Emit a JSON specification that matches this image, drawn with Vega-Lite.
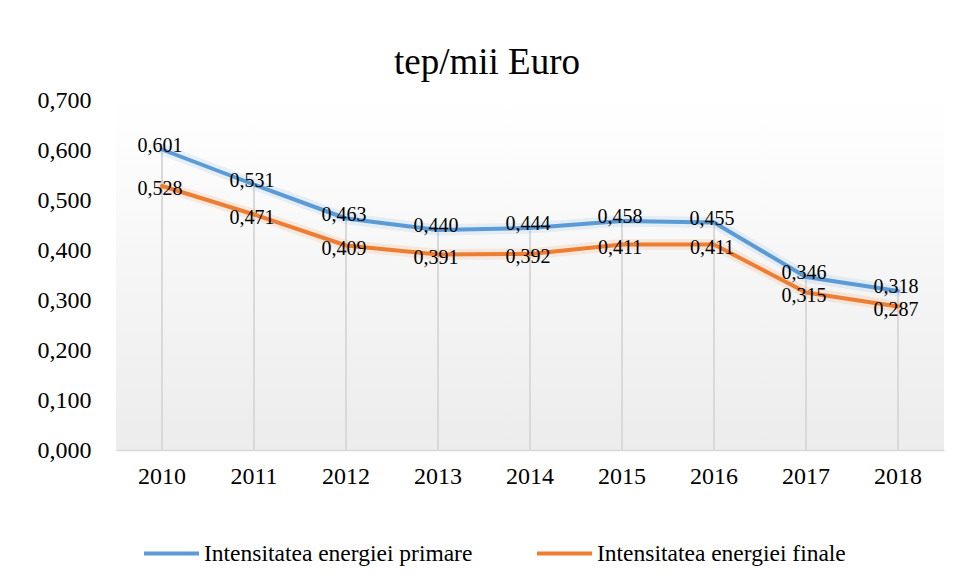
{
  "$schema": "https://vega.github.io/schema/vega-lite/v6.json",
  "width": 828,
  "height": 350,
  "autosize": {"type": "none"},
  "padding": {"left": 116, "top": 100, "right": 10, "bottom": 132},
  "background": "white",
  "title": {"text": "tep/mii Euro", "font": "Liberation Serif", "fontSize": 37, "fontWeight": "normal", "color": "#000000", "anchor": "middle", "dx": -43, "offset": -23, "baseline": "alphabetic"},
  "config": {
    "font": "Liberation Serif",
    "locale": {"number": {"decimal": ",", "thousands": ".", "grouping": [3], "currency": ["", " €"]}},
    "view": {"stroke": null, "fill": {"gradient": "linear", "x1": 0, "y1": 0, "x2": 0, "y2": 1, "stops": [{"offset": 0, "color": "#ffffff"}, {"offset": 1, "color": "#ececec"}]}},
    "legend": {"title": null, "orient": "none", "legendX": 26, "legendY": 424, "direction": "horizontal", "symbolType": "stroke", "symbolSize": 3025, "symbolStrokeWidth": 4, "symbolOpacity": 1, "labelFontSize": 23.5, "labelFont": "Liberation Serif", "labelColor": "#000000", "labelOffset": 3, "columnPadding": 56, "labelLimit": 0, "padding": 0}
  },
  "data": {"values": [
    {"year": "2010", "series": "Intensitatea energiei primare", "value": 0.601},
    {"year": "2011", "series": "Intensitatea energiei primare", "value": 0.531},
    {"year": "2012", "series": "Intensitatea energiei primare", "value": 0.463},
    {"year": "2013", "series": "Intensitatea energiei primare", "value": 0.440},
    {"year": "2014", "series": "Intensitatea energiei primare", "value": 0.444},
    {"year": "2015", "series": "Intensitatea energiei primare", "value": 0.458},
    {"year": "2016", "series": "Intensitatea energiei primare", "value": 0.455},
    {"year": "2017", "series": "Intensitatea energiei primare", "value": 0.346},
    {"year": "2018", "series": "Intensitatea energiei primare", "value": 0.318},
    {"year": "2010", "series": "Intensitatea energiei finale", "value": 0.528},
    {"year": "2011", "series": "Intensitatea energiei finale", "value": 0.471},
    {"year": "2012", "series": "Intensitatea energiei finale", "value": 0.409},
    {"year": "2013", "series": "Intensitatea energiei finale", "value": 0.391},
    {"year": "2014", "series": "Intensitatea energiei finale", "value": 0.392},
    {"year": "2015", "series": "Intensitatea energiei finale", "value": 0.411},
    {"year": "2016", "series": "Intensitatea energiei finale", "value": 0.411},
    {"year": "2017", "series": "Intensitatea energiei finale", "value": 0.315},
    {"year": "2018", "series": "Intensitatea energiei finale", "value": 0.287}
  ]},
  "encoding": {
    "x": {"field": "year", "type": "ordinal", "axis": {"title": null, "labelAngle": 0, "ticks": false, "grid": false, "domainColor": "#d9d9d9", "domainWidth": 1.5, "labelFontSize": 24, "labelColor": "#000000", "labelPadding": 14, "labelFont": "Liberation Serif"}},
    "y": {"field": "value", "type": "quantitative", "scale": {"domain": [0, 0.7], "nice": false, "zero": true}, "axis": {"title": null, "values": [0, 0.1, 0.2, 0.3, 0.4, 0.5, 0.6, 0.7], "format": ".3f", "domain": false, "ticks": false, "grid": false, "labelAlign": "left", "labelBaseline": "middle", "labelPadding": 79, "labelFontSize": 24, "labelColor": "#000000", "labelFont": "Liberation Serif"}}
  },
  "layer": [
    {
      "transform": [{"filter": "datum.series === 'Intensitatea energiei primare'"}],
      "mark": {"type": "rule", "color": "#d9d9d9", "strokeWidth": 2},
      "encoding": {"y2": {"datum": 0}}
    },
    {
      "mark": {"type": "line", "strokeWidth": 11, "opacity": 0.13, "strokeCap": "round"},
      "encoding": {
        "color": {"field": "series", "type": "nominal", "scale": {"domain": ["Intensitatea energiei primare", "Intensitatea energiei finale"], "range": ["#5b9bd5", "#ed7d31"]}}
      }
    },
    {
      "mark": {"type": "line", "strokeWidth": 4, "strokeCap": "round", "strokeJoin": "round"},
      "encoding": {
        "color": {"field": "series", "type": "nominal", "scale": {"domain": ["Intensitatea energiei primare", "Intensitatea energiei finale"], "range": ["#5b9bd5", "#ed7d31"]}}
      }
    },
    {
      "transform": [{"filter": "datum.series === 'Intensitatea energiei primare'"}],
      "mark": {"type": "text", "fontSize": 20, "font": "Liberation Serif", "color": "#000000", "align": "center", "baseline": "middle", "dx": -2, "dy": -4},
      "encoding": {"text": {"field": "value", "type": "quantitative", "format": ".3f"}}
    },
    {
      "transform": [{"filter": "datum.series === 'Intensitatea energiei finale'"}],
      "mark": {"type": "text", "fontSize": 20, "font": "Liberation Serif", "color": "#000000", "align": "center", "baseline": "middle", "dx": -2, "dy": 3},
      "encoding": {"text": {"field": "value", "type": "quantitative", "format": ".3f"}}
    }
  ]
}
